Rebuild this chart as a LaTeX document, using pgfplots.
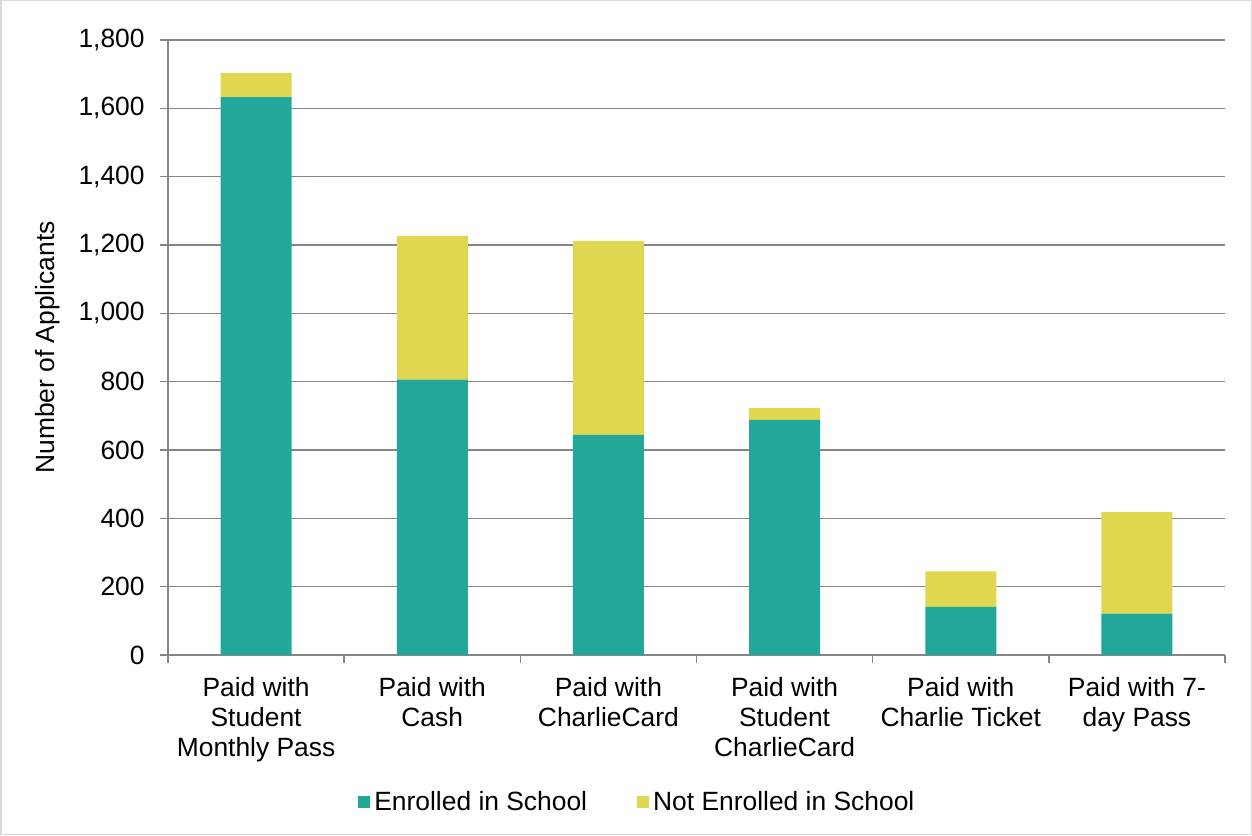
\documentclass[border=0pt]{standalone}
\usepackage{pgfplots}
\pgfplotsset{compat=1.18}
\usepackage{fontspec}
\setmainfont{Liberation Sans}
\definecolor{enrolled}{RGB}{33,168,152}
\definecolor{notenrolled}{RGB}{224,215,80}
\definecolor{axgray}{RGB}{134,134,134}
\definecolor{framegray}{RGB}{217,217,217}
\begin{document}
\begin{tikzpicture}[font=\fontsize{13.2}{15}\selectfont]
\draw[framegray, line width=0.75pt] (0.375pt,0.375pt) rectangle (625.625pt,417.125pt);
\begin{axis}[
  at={(84pt,90pt)}, anchor=south west,
  scale only axis, width=528.5pt, height=307.5pt,
  ybar stacked, bar width=35.5pt,
  xmin=-0.5, xmax=5.5, ymin=0, ymax=1800,
  enlarge x limits=false, enlarge y limits=false,
  axis x line*=bottom, axis y line*=left,
  axis line style={draw=axgray, line width=0.75pt, -},
  ytick={0,200,...,1800},
  ymajorgrids, grid style={draw=axgray, line width=0.75pt},
  tick align=outside, major tick length=4pt, minor tick length=4pt,
  ytick style={draw=axgray, line width=0.75pt},
  xtick={0,...,5},
  xtick style={draw=none},
  minor xtick={-0.5,0.5,...,5.5},
  minor x tick style={draw=axgray, line width=0.75pt},
  xticklabels={{Paid with\\Student\\Monthly Pass},{Paid with\\Cash},{Paid with\\CharlieCard},{Paid with\\Student\\CharlieCard},{Paid with\\Charlie Ticket},{Paid with 7-\\day Pass}},
  xticklabel style={align=center, anchor=north, inner sep=0pt, yshift=-6.8pt},
  yticklabel style={anchor=east, inner sep=0pt, xshift=-7.5pt},
  /pgf/number format/.cd, 1000 sep={,}, assume math mode=true, /pgfplots/.cd,
  ylabel={Number of Applicants},
  ylabel style={at={(axis description cs:-0.1135,0.5)}, anchor=center},
  legend columns=2,
  legend style={draw=none, fill=none, at={(0.445,-0.239)}, anchor=center,
    /tikz/every even column/.append style={column sep=23pt}, inner sep=0pt,
    nodes={inner sep=2pt}},
]
\addplot[fill=enrolled, draw=none, legend image code/.code={\fill[enrolled] (0pt,-3pt) rectangle (6pt,3pt);}]
  coordinates {(0,1633) (1,806) (2,644) (3,688) (4,141) (5,121)};
\addplot[fill=notenrolled, draw=none, legend image code/.code={\fill[notenrolled] (0pt,-3pt) rectangle (6pt,3pt);}]
  coordinates {(0,71) (1,421) (2,568) (3,35) (4,104) (5,297)};
\legend{Enrolled in School, Not Enrolled in School}
\end{axis}
\end{tikzpicture}
\end{document}
